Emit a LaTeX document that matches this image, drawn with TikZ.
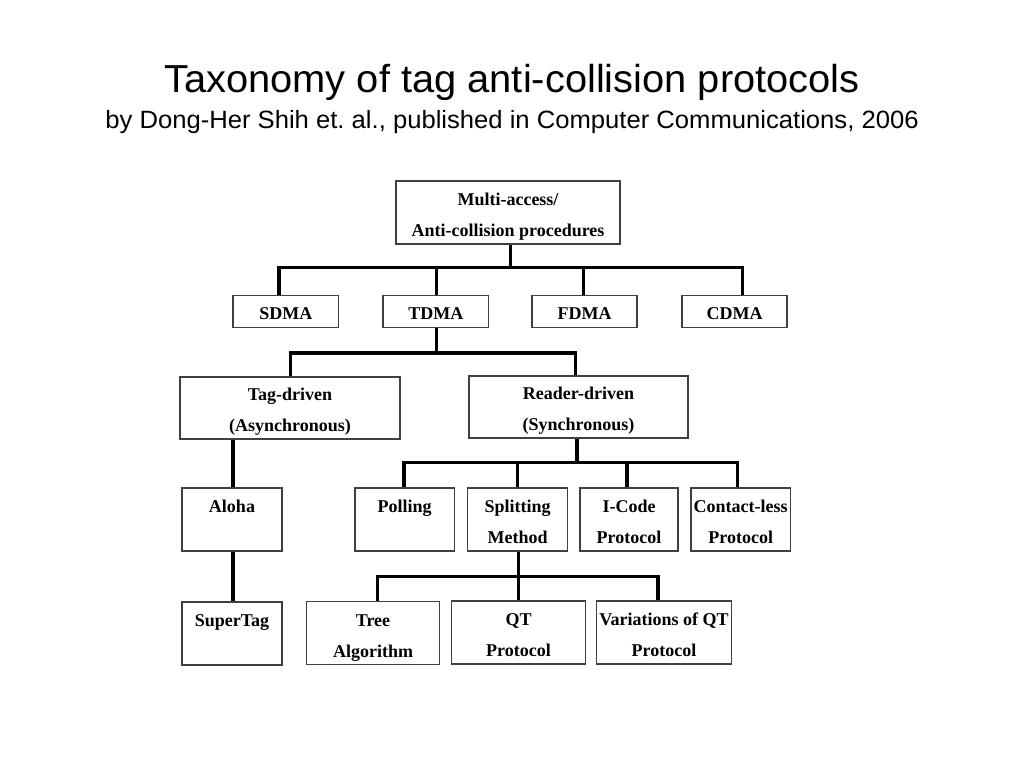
\documentclass[tikz,border=0pt]{standalone}
\usepackage{fontspec}
\usepackage{graphicx}
\setmainfont{Liberation Serif}
\newfontfamily\titlefont{Liberation Sans}
\usetikzlibrary{calc}
\frenchspacing
\newcommand\boxtop{\rule{0pt}{20.5pt}}
\newcommand\boxbot{\vphantom{(g}}
\begin{document}
\begin{tikzpicture}[x=1pt,y=-1pt,
  base/.style={draw=black!75, line width=1.2pt, fill=white, inner sep=0pt, align=center,
    font=\fontsize{18}{31}\selectfont\bfseries},
  box/.style={base},
  small/.style={base, minimum height=32pt},
  tall/.style={box, minimum height=63pt},
  conn/.style={line width=3.5pt, black},
  ttl/.style={inner sep=0pt, anchor=base, font=\titlefont\fontsize{39}{41}\selectfont},
  sub/.style={inner sep=0pt, anchor=base, font=\titlefont\fontsize{25}{27}\selectfont}]
\useasboundingbox[fill=white] (0,0) rectangle (1024,768);

\node[ttl] (title) at (512,92) {\scalebox{1.022}[1]{Taxonomy of tag anti-collision protocols}};
\node[sub] (subtitle) at (512,128) {\scalebox{1.025}[1]{by Dong-Her Shih et. al., published in Computer Communications, 2006}};

\node[tall, minimum width=224pt] (root) at (508,212.5) {\boxtop Multi-access/\\Anti-collision procedures\boxbot};

\node[small, minimum width=105.5pt] (sdma) at (285.8,311.4) {\rule{0pt}{16pt}SDMA};
\node[small, minimum width=105.5pt] (tdma) at (435.8,311.4) {\rule{0pt}{16pt}TDMA};
\node[small, minimum width=105pt] (fdma) at (584.5,311.4) {\rule{0pt}{16pt}FDMA};
\node[small, minimum width=105pt] (cdma) at (734.5,311.4) {\rule{0pt}{16pt}CDMA};

\node[box, minimum width=220pt, minimum height=62pt] (tag) at (290,408) {\boxtop Tag-driven\\(Asynchronous)\boxbot};
\node[box, minimum width=219pt, minimum height=62pt] (reader) at (578.5,407) {\boxtop Reader-driven\\(Synchronous)\boxbot};

\node[tall, minimum width=100pt] (aloha) at (232,519.5) {\boxtop Aloha\\\boxbot};
\node[tall, minimum width=100pt] (supertag) at (232,633.5) {\boxtop SuperTag\\\boxbot};

\node[tall, minimum width=99.5pt] (polling) at (404.7,519.5) {\boxtop Polling\\\boxbot};
\node[tall, minimum width=100pt] (split) at (517.6,519.5) {\boxtop Splitting\\Method\boxbot};
\node[tall, minimum width=98pt] (icode) at (629,519.5) {\boxtop I-Code\\Protocol\boxbot};
\node[tall, minimum width=99.5pt] (contact) at (740.7,519.5) {\boxtop Contact-less\\Protocol\boxbot};

\node[tall, minimum width=133pt] (tree) at (373,633.3) {\boxtop Tree\\Algorithm\boxbot};
\node[tall, minimum width=134pt] (qt) at (518.5,632.5) {\boxtop QT\\Protocol\boxbot};
\node[tall, minimum width=134.5pt] (varqt) at (664,632.5) {\boxtop Variations of QT\\Protocol\boxbot};

% junctions
\coordinate (j1) at (510.6,267.7);
\coordinate (j2) at (436.3,353);
\coordinate (j3) at (576.8,462.7);
\coordinate (j4) at (518.6,576.7);

\draw[conn] (root.south -| j1) -- (j1);
\draw[conn] ([xshift=-6.6pt]sdma.north) |- (j1);
\draw[conn] ([xshift=0.5pt]tdma.north) |- (j1);
\draw[conn] ([xshift=-0.8pt]fdma.north) |- (j1);
\draw[conn] ([xshift=7.8pt]cdma.north) |- (j1);

\draw[conn] (tdma.south -| j2) -- (j2);
\draw[conn] ([xshift=0.5pt]tag.north) |- (j2);
\draw[conn] ([xshift=-2.9pt]reader.north) |- (j2);

\draw[conn] ([xshift=1pt]aloha.north) -- ([xshift=1pt]aloha.north |- tag.south);
\draw[conn] ([xshift=1pt]aloha.south) -- ([xshift=1pt]supertag.north);

\draw[conn] (reader.south -| j3) -- (j3);
\draw[conn] ([xshift=-0.7pt]polling.north) |- (j3);
\draw[conn] ([xshift=-0.2pt]split.north) |- (j3);
\draw[conn] ([xshift=-2pt]icode.north) |- (j3);
\draw[conn] ([xshift=-3.2pt]contact.north) |- (j3);

\draw[conn] (split.south -| j4) -- (j4);
\draw[conn] ([xshift=4.6pt]tree.north) |- (j4);
\draw[conn] ([xshift=0.1pt]qt.north) |- (j4);
\draw[conn] ([xshift=-6pt]varqt.north) |- (j4);
\end{tikzpicture}
\end{document}
